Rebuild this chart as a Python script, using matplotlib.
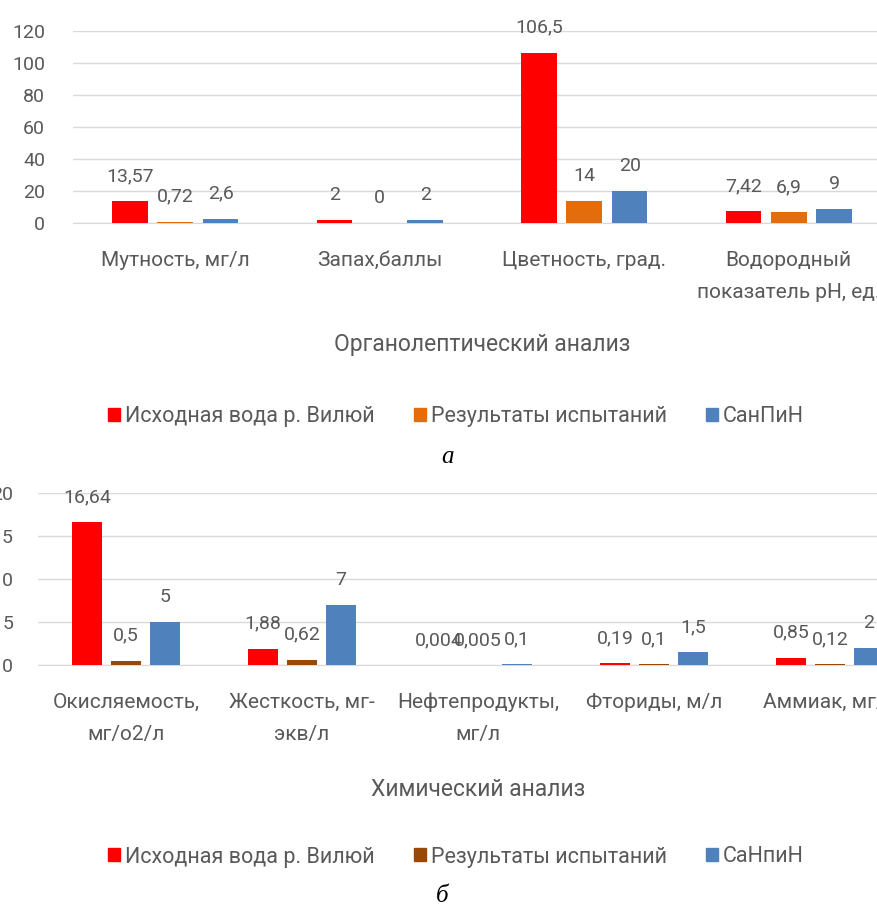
import numpy as np
import matplotlib
matplotlib.use("Agg")
import matplotlib.pyplot as plt
from matplotlib.patches import Rectangle

plt.rcParams['font.family'] = ['Roboto', 'DejaVu Sans']

# ====== Data ======
series_top = ['Исходная вода р. Вилюй', 'Результаты испытаний', 'СанПиН']
series_bottom = ['Исходная вода р. Вилюй', 'Результаты испытаний', 'СаНпиН']

organo_cats = ['Мутность, мг/л', 'Запах,баллы', 'Цветность, град.',
               'Водородный\nпоказатель pH, ед.']
organo_raw = [13.57, 2, 106.5, 7.42]
organo_test = [0.72, 0, 14, 6.9]
organo_norm = [2.6, 2, 20, 9]

chem_cats = ['Окисляемость,\nмг/о2/л', 'Жесткость, мг-\nэкв/л',
             'Нефтепродукты,\nмг/л', 'Фториды, м/л', 'Аммиак, мг/л']
chem_raw = [16.64, 1.88, 0.004, 0.19, 0.85]
chem_test = [0.5, 0.62, 0.005, 0.1, 0.12]
chem_norm = [5, 7, 0.1, 1.5, 2]

colors_top = ['#ff0000', '#e46c0a', '#4f81bd']
colors_bottom = ['#ff0000', '#984807', '#4f81bd']

TEXT = '#595959'
GRID = '#d9d9d9'
FS_NUM = 14      # tick and value labels
FS_CAT = 15      # category labels
FS_LEG = 15.5    # legend
FS_TITLE = 16.5  # axis titles

W, H = 877, 908
fig = plt.figure(figsize=(W / 100, H / 100), dpi=100)


def px_axes(left, right, y_top, y_zero):
    # axes rectangle given in pixel coords (origin top-left)
    return fig.add_axes([left / W, 1 - y_zero / H, (right - left) / W, (y_zero - y_top) / H])


def fmt(v):
    return f"{v:g}".replace('.', ',')


def draw_panel(ax, cats, groups, colors, ymax, ystep, ypad):
    x = np.arange(len(cats))
    for i, (vals, col) in enumerate(zip(groups, colors)):
        xs = x + (i - 1) * 0.222
        ax.bar(xs, vals, width=0.174, color=col, zorder=3)
        for xi, v in zip(xs, vals):
            ax.annotate(fmt(v), (xi, v), xytext=(0, 18), textcoords='offset points',
                        ha='center', va='center', fontsize=FS_NUM, color=TEXT,
                        annotation_clip=False, zorder=4)
    ax.set_xlim(-0.5, len(cats) - 0.5)
    ax.set_ylim(0, ymax)
    ax.set_yticks(np.arange(0, ymax + 1, ystep))
    ax.set_xticks(x)
    ax.set_xticklabels(cats, linespacing=1.85)
    ax.grid(axis='y', color=GRID, linewidth=1, zorder=0)
    ax.set_axisbelow(True)
    for side in ['top', 'right', 'left']:
        ax.spines[side].set_visible(False)
    ax.spines['bottom'].set_color(GRID)
    ax.tick_params(axis='y', length=0, pad=ypad, labelsize=FS_NUM, labelcolor=TEXT)
    ax.tick_params(axis='x', length=0, pad=20, labelsize=FS_CAT, labelcolor=TEXT)


def draw_legend(labels, colors, y):
    handles = [Rectangle((0, 0), 1, 1, color=c) for c in colors]
    fig.legend(handles, labels, ncol=3, loc='center', bbox_to_anchor=(456 / W, 1 - y / H),
               frameon=False, handlelength=0.55, handleheight=0.55, handletextpad=0.25,
               columnspacing=1.8, fontsize=FS_LEG, labelcolor=TEXT)


# ====== Organoleptic panel ======
ax1 = px_axes(73, 891, 31, 223)
draw_panel(ax1, organo_cats, [organo_raw, organo_test, organo_norm], colors_top, 120, 20, 20)
fig.text(482 / W, 1 - 344 / H, 'Органолептический анализ', ha='center', va='center',
         fontsize=FS_TITLE, color=TEXT)
draw_legend(series_top, colors_top, 417)
fig.text(448 / W, 1 - 457 / H, 'а', ha='center', va='center', fontsize=18,
         family='Liberation Serif', style='italic', color='black')

# ====== Chemical panel ======
ax2 = px_axes(38, 918, 493, 665)
draw_panel(ax2, chem_cats, [chem_raw, chem_test, chem_norm], colors_bottom, 20, 5, 18)
fig.text(478 / W, 1 - 790 / H, 'Химический анализ', ha='center', va='center',
         fontsize=FS_TITLE, color=TEXT)
draw_legend(series_bottom, colors_bottom, 857)
fig.text(442 / W, 1 - 896 / H, 'б', ha='center', va='center', fontsize=18,
         family='Liberation Serif', style='italic', color='black')

fig.savefig('out.png', dpi=100)
